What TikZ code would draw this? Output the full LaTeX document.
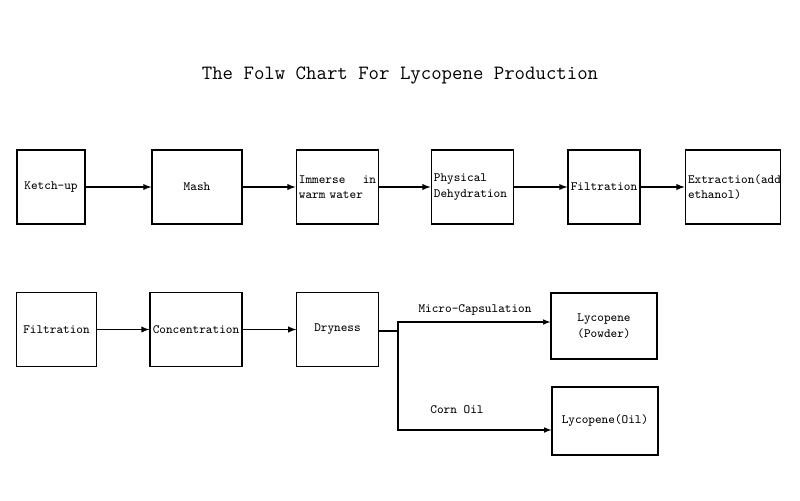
\documentclass[tikz,border=0pt]{standalone}
\usepackage{tikz}
\usetikzlibrary{arrows,positioning}
\begin{document}
\begin{tikzpicture}[x=0.025cm,y=-0.025cm,font=\ttfamily\small]
%styles
\tikzstyle{stage}=[draw=black,line width=0.8pt,minimum height=1.85cm,inner sep=2pt,align=left]
\tikzstyle{flow}=[->,>=latex,line width=1pt]
\useasboundingbox (0,0) rectangle (800,500);

\node[font=\ttfamily\Large] (title) at (400,75) {The Folw Chart For Lycopene Production};

%first row
\node[stage,minimum width=1.7cm] (ketch) at (51,187) {Ketch-up};
\node[stage,minimum width=2.25cm] (mash) at (197,187) {Mash};
\node[stage,minimum width=2.03cm,text width=1.93cm] (immerse) at (337.5,187) {Immerse\hfill in\\warm water};
\node[stage,minimum width=2.03cm,text width=1.93cm] (phys) at (472.5,187) {Physical\\Dehydration};
\node[stage,minimum width=1.8cm] (filt) at (604,187) {Filtration};
\node[stage,minimum width=2.35cm,text width=2.25cm] (extr) at (733,187) {Extraction(add\\ethanol)};

%second row
\node[stage,minimum width=1.98cm] (filt2) at (56.5,329.5) {Filtration};
\node[stage,minimum width=2.2cm] (conc) at (196,329.5) {Concentration};
\node[stage,minimum width=2.03cm] (dry) at (337.5,329.5) {Dryness};
\node[stage,minimum width=2.65cm,minimum height=1.65cm,align=center] (powder) at (604,326) {Lycopene\\(Powder)};
\node[stage,minimum width=2.65cm,minimum height=1.7cm] (oil) at (605,421) {Lycopene(Oil)};

\draw[flow] (ketch) -- (mash);
\draw[flow] (mash) -- (immerse);
\draw[flow] (immerse) -- (phys);
\draw[flow] (phys) -- (filt);
\draw[flow] (filt) -- (extr);
\draw[flow] (filt2) -- (conc);
\draw[flow] (conc) -- (dry);

%branch
\coordinate (split) at (398,331);
\draw[line width=0.8pt] (dry.east |- split) -- (split);
\draw[flow,line width=0.8pt] (split) |- (powder.west |- 0,322);
\draw[flow,line width=0.8pt] (split) |- (oil.west |- 0,430);
\node (micro) at (475,310) {Micro-Capsulation};
\node (corn) at (457,410) {Corn Oil};
\end{tikzpicture}
\end{document}
